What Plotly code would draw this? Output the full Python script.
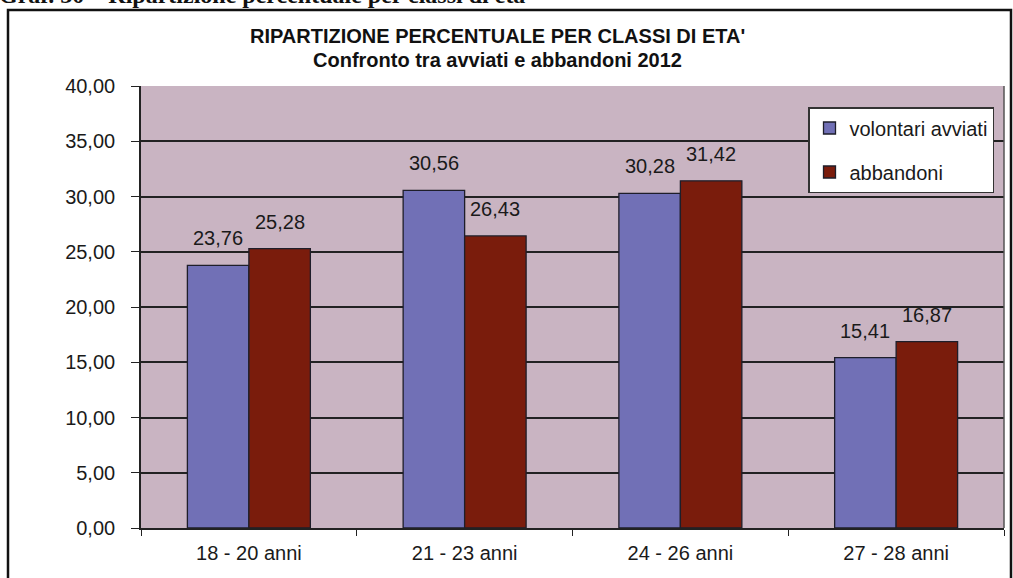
import plotly.graph_objects as go

categories = ["18 - 20 anni", "21 - 23 anni", "24 - 26 anni", "27 - 28 anni"]
avviati = [23.76, 30.56, 30.28, 15.41]
abbandoni = [25.28, 26.43, 31.42, 16.87]
y_ticks = [0, 5, 10, 15, 20, 25, 30, 35, 40]

W, H = 1013, 578
L, R, T, B = 141, 9, 86, 50
pw, ph = W - L - R, H - T - B
BARGAP = 0.43


def px_x(x):
    return (x - L) / pw


def px_y(y):
    return (H - B - y) / ph


fig = go.Figure()

fig.add_trace(go.Bar(
    x=categories, y=avviati, name="volontari avviati", legendgroup="a",
    marker=dict(color="#7170B6", line=dict(color="#1e1e2a", width=1.3)),
))
fig.add_trace(go.Bar(
    x=categories, y=abbandoni, name="abbandoni", legendgroup="b",
    marker=dict(color="#7A1C0C", line=dict(color="#1e1e2a", width=1.3)),
))

# value labels above the bars
bar_w = pw / len(categories) * (1 - BARGAP) / 2
for series, shift in ((avviati, -bar_w / 2), (abbandoni, bar_w / 2)):
    for cat, v in zip(categories, series):
        fig.add_annotation(
            x=cat, y=v, xshift=shift, yshift=27, showarrow=False,
            text=f"{v:.2f}".replace(".", ","),
            font=dict(size=20, family="Arial", color="#1a1a1a"),
        )

fig.update_layout(
    width=W, height=H,
    margin=dict(l=L, r=R, t=T, b=B),
    paper_bgcolor="white",
    plot_bgcolor="#C9B4C2",
    separators=",.",
    barmode="group",
    bargap=BARGAP,
    bargroupgap=0,
    font=dict(family="Arial", size=20, color="#1a1a1a"),
    showlegend=True,
    legend=dict(
        x=px_x(808), y=px_y(107), xanchor="left", yanchor="top",
        bgcolor="white", bordercolor="#333", borderwidth=1.5,
        font=dict(size=20, family="Arial", color="#1a1a1a"),
        traceorder="grouped", tracegroupgap=15, itemwidth=30,
    ),
)

fig.update_yaxes(
    range=[0, 40], tickvals=y_ticks, tickformat=".2f",
    showgrid=True, gridcolor="#222", gridwidth=1.6,
    showline=True, linecolor="#222", linewidth=1.6,
    ticks="outside", ticklen=8, tickcolor="#222",
    tickfont=dict(size=20), ticklabelstandoff=12, zeroline=False,
)
fig.update_xaxes(
    showline=True, linecolor="#222", linewidth=1.6,
    ticks="outside", ticklen=6, tickcolor="#222",
    tickson="boundaries", tickfont=dict(size=20), ticklabelstandoff=6,
)

# right edge of plot area
fig.add_shape(type="line", xref="paper", yref="paper", x0=1, x1=1, y0=0, y1=1,
              line=dict(color="#555", width=1.5))

# outer frame
fig.add_shape(type="rect", xref="paper", yref="paper",
              x0=px_x(8), x1=px_x(1011), y0=px_y(590), y1=px_y(10),
              line=dict(color="#111", width=2.5), layer="above")

fig.add_annotation(
    text="<b>RIPARTIZIONE PERCENTUALE PER CLASSI DI ETA'</b>",
    xref="paper", yref="paper", x=px_x(497), y=px_y(36), yanchor="middle",
    showarrow=False, font=dict(size=20, family="Arial", color="#111"),
)
fig.add_annotation(
    text="<b>Confronto tra avviati e abbandoni 2012</b>",
    xref="paper", yref="paper", x=px_x(497), y=px_y(60), yanchor="middle",
    showarrow=False, font=dict(size=20, family="Arial", color="#111"),
)
fig.add_annotation(
    text="<b>Graf. 30 – Ripartizione percentuale per classi di età</b>",
    xref="paper", yref="paper", x=px_x(-3), y=px_y(-5),
    xanchor="left", yanchor="middle", showarrow=False,
    font=dict(size=24, family="Liberation Serif", color="#111"),
)

fig.write_html("out.html", config={"displayModeBar": False},
               post_script="document.body.style.margin='0';")
